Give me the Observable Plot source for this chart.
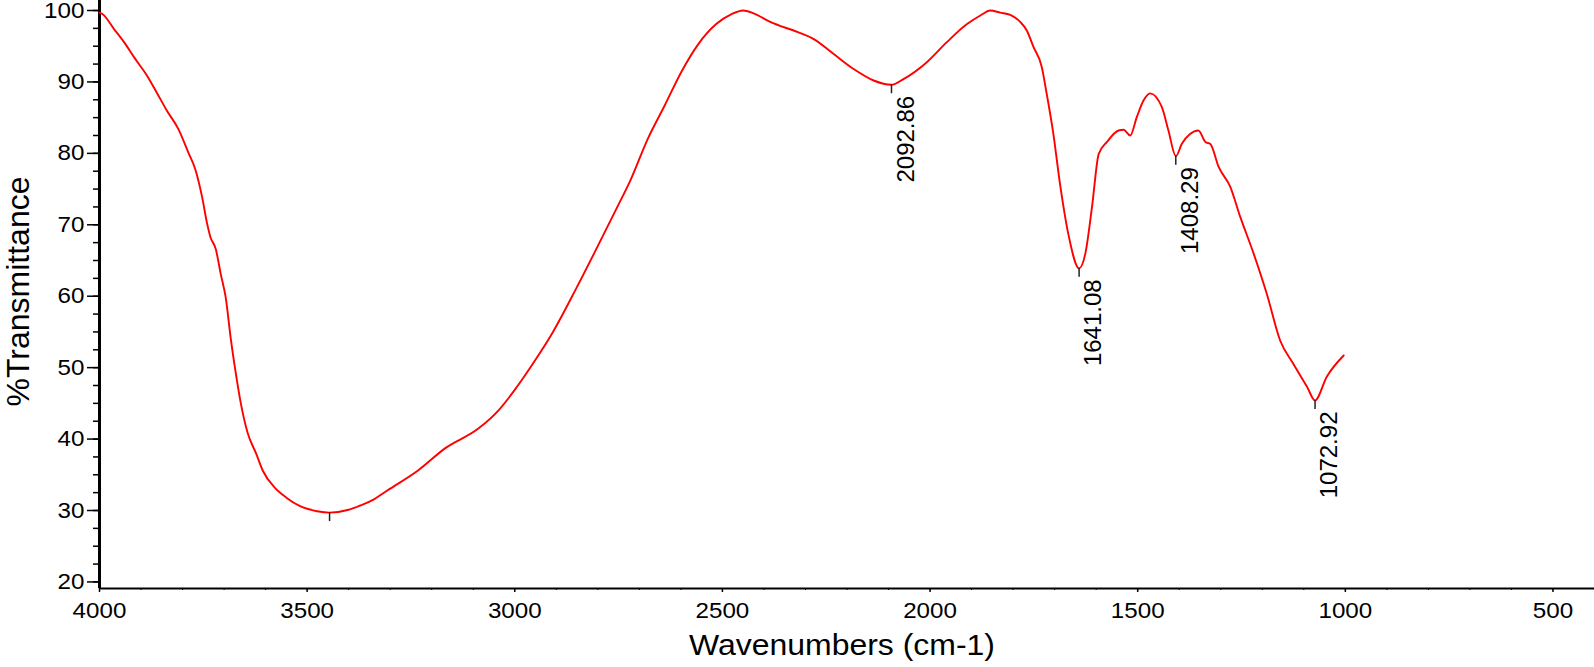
<!DOCTYPE html>
<html>
<head>
<meta charset="utf-8">
<script src="https://cdn.jsdelivr.net/npm/d3@7"></script>
<script src="https://cdn.jsdelivr.net/npm/@observablehq/plot@0.6"></script>
<style>
  html, body { margin: 0; padding: 0; background: #fff; }
  #chart svg { display: block; }
</style>
</head>
<body>
<div id="chart"></div>
<script>
// FTIR spectrum values
const wavenumbers = [4000, 3993, 3965, 3940, 3916, 3887, 3863, 3838, 3810, 3786, 3769, 3753, 3741, 3733, 3720, 3708, 3696, 3684, 3672, 3660, 3643, 3623, 3607, 3578, 3550, 3517, 3476, 3446, 3400, 3372, 3338, 3307, 3233, 3168, 3087, 3038, 3005, 2949, 2908, 2851, 2802, 2753, 2721, 2680, 2639, 2598, 2558, 2515, 2478, 2450, 2425, 2385, 2320, 2280, 2232, 2184, 2136, 2093, 2064, 2007, 1959, 1911, 1879, 1855, 1831, 1807, 1783, 1767, 1751, 1731, 1719, 1703, 1687, 1667, 1641, 1626, 1610, 1594, 1574, 1546, 1534, 1518, 1502, 1486, 1470, 1442, 1426, 1408, 1394, 1374, 1354, 1337, 1325, 1305, 1277, 1253, 1221, 1189, 1157, 1125, 1092, 1073, 1045, 1004];
const transmittance = [99.7, 99.5, 97.4, 95.5, 93.4, 91.0, 88.6, 86.0, 83.4, 80.1, 77.7, 73.9, 70.2, 68.3, 66.6, 63.1, 59.8, 54.1, 49.3, 45.1, 40.8, 38.0, 35.6, 33.2, 31.8, 30.6, 29.9, 29.7, 30.1, 30.7, 31.6, 32.8, 35.6, 38.7, 41.5, 44.1, 46.5, 51.2, 55.0, 61.2, 66.8, 72.5, 76.3, 82.0, 86.7, 91.5, 95.3, 98.1, 99.5, 100.0, 99.6, 98.4, 97.0, 96.0, 93.9, 91.8, 90.2, 89.6, 90.4, 92.8, 95.6, 98.1, 99.3, 100.0, 99.7, 99.4, 98.4, 97.2, 94.9, 92.1, 88.3, 82.7, 75.7, 68.7, 63.9, 66.0, 72.5, 79.9, 81.6, 83.2, 83.3, 82.5, 85.1, 87.4, 88.4, 86.5, 83.2, 79.6, 81.3, 82.7, 83.2, 81.6, 81.3, 78.1, 75.3, 71.1, 66.0, 60.3, 53.8, 50.5, 47.3, 45.4, 48.7, 51.7];

// Peak markers (the one near 3446 has no label in the reference)
const peakWavenumbers = [3446, 2092.86, 1641.08, 1408.29, 1072.92];
const peakTransmittance = [29.7, 89.6, 63.9, 79.6, 45.4];
const peakLabels = ["", "2092.86", "1641.08", "1408.29", "1072.92"];

// Axis ticks
const xLabelTicks = [4000, 3500, 3000, 2500, 2000, 1500, 1000, 500];
const xMinorTicks = d3.range(4000, 399, -100);
const yLabelTicks = [20, 30, 40, 50, 60, 70, 80, 90, 100];
const yMinorTicks = d3.range(20, 100.1, 2.5);

const xDomain = [4000, 400];
const yDomain = [19.08, 101.4];

const spectrum = wavenumbers.map((w, i) => ({w, t: transmittance[i]}));
const peaks = peakWavenumbers.map((w, i) => ({w, t: peakTransmittance[i], label: peakLabels[i]}));

const chart = Plot.plot({
  width: 1594,
  height: 667,
  marginLeft: 99,
  marginRight: 0,
  marginTop: 0,
  marginBottom: 79,
  style: {fontFamily: "'Liberation Sans', Arial, sans-serif", background: "#fff", color: "#000", overflow: "visible"},
  x: {domain: xDomain},
  y: {domain: yDomain},
  marks: [
    // minor ticks
    Plot.axisX({ticks: xMinorTicks, tickSize: 2, text: null, label: null, stroke: "#000", strokeWidth: 1}),
    Plot.axisX({ticks: xLabelTicks, tickSize: 4, tickPadding: 10, fontSize: 22, label: null, tickFormat: d => String(d), stroke: "#000", strokeWidth: 1.5, className: "xticklabels"}),
    Plot.axisY({ticks: yMinorTicks, tickSize: 6, text: null, label: null, stroke: "#000", strokeWidth: 1.5}),
    Plot.axisY({ticks: yLabelTicks, tickSize: 12, tickPadding: 3, fontSize: 22, label: null, tickFormat: d => String(d), stroke: "#000", strokeWidth: 1.5, className: "yticklabels"}),
    // axis lines
    Plot.ruleY([yDomain[0]], {stroke: "#000", strokeWidth: 2}),
    Plot.ruleX([xDomain[0]], {stroke: "#000", strokeWidth: 3}),
    // spectrum
    Plot.line(spectrum, {x: "w", y: "t", stroke: "#ff0000", strokeWidth: 1.9, curve: "monotone-x"}),
    // peak ticks and labels
    Plot.ruleX(peaks, {x: "w", y1: "t", y2: d => d.t - 1.25, stroke: "#222", strokeWidth: 1.5}),
    Plot.text(peaks, {x: "w", y: "t", text: "label", rotate: -90, textAnchor: "end", lineAnchor: "top", dy: 11, dx: 5, fontSize: 24, fill: "#000"}),
    // axis titles
    Plot.text(["Wavenumbers (cm-1)"], {frameAnchor: "bottom", textAnchor: "middle", lineAnchor: "middle", dy: 57, dx: -5, fontSize: 30, fill: "#000", className: "xtitle"}),
    Plot.text(["%Transmittance"], {frameAnchor: "left", textAnchor: "middle", rotate: -90, lineAnchor: "top", dx: -93, dy: -3, fontSize: 32, fill: "#000"})
  ]
});

document.getElementById("chart").appendChild(chart);

// widen the horizontal text glyphs slightly, as in the reference
chart.querySelectorAll(".xtitle text").forEach(t => {
  t.setAttribute("textLength", 306);
  t.setAttribute("lengthAdjust", "spacingAndGlyphs");
});
chart.querySelectorAll(".xticklabels text, .yticklabels text").forEach(t => {
  const len = t.getComputedTextLength();
  if (len > 0) {
    t.setAttribute("textLength", (len * 1.1).toFixed(1));
    t.setAttribute("lengthAdjust", "spacingAndGlyphs");
  }
});
</script>
</body>
</html>
